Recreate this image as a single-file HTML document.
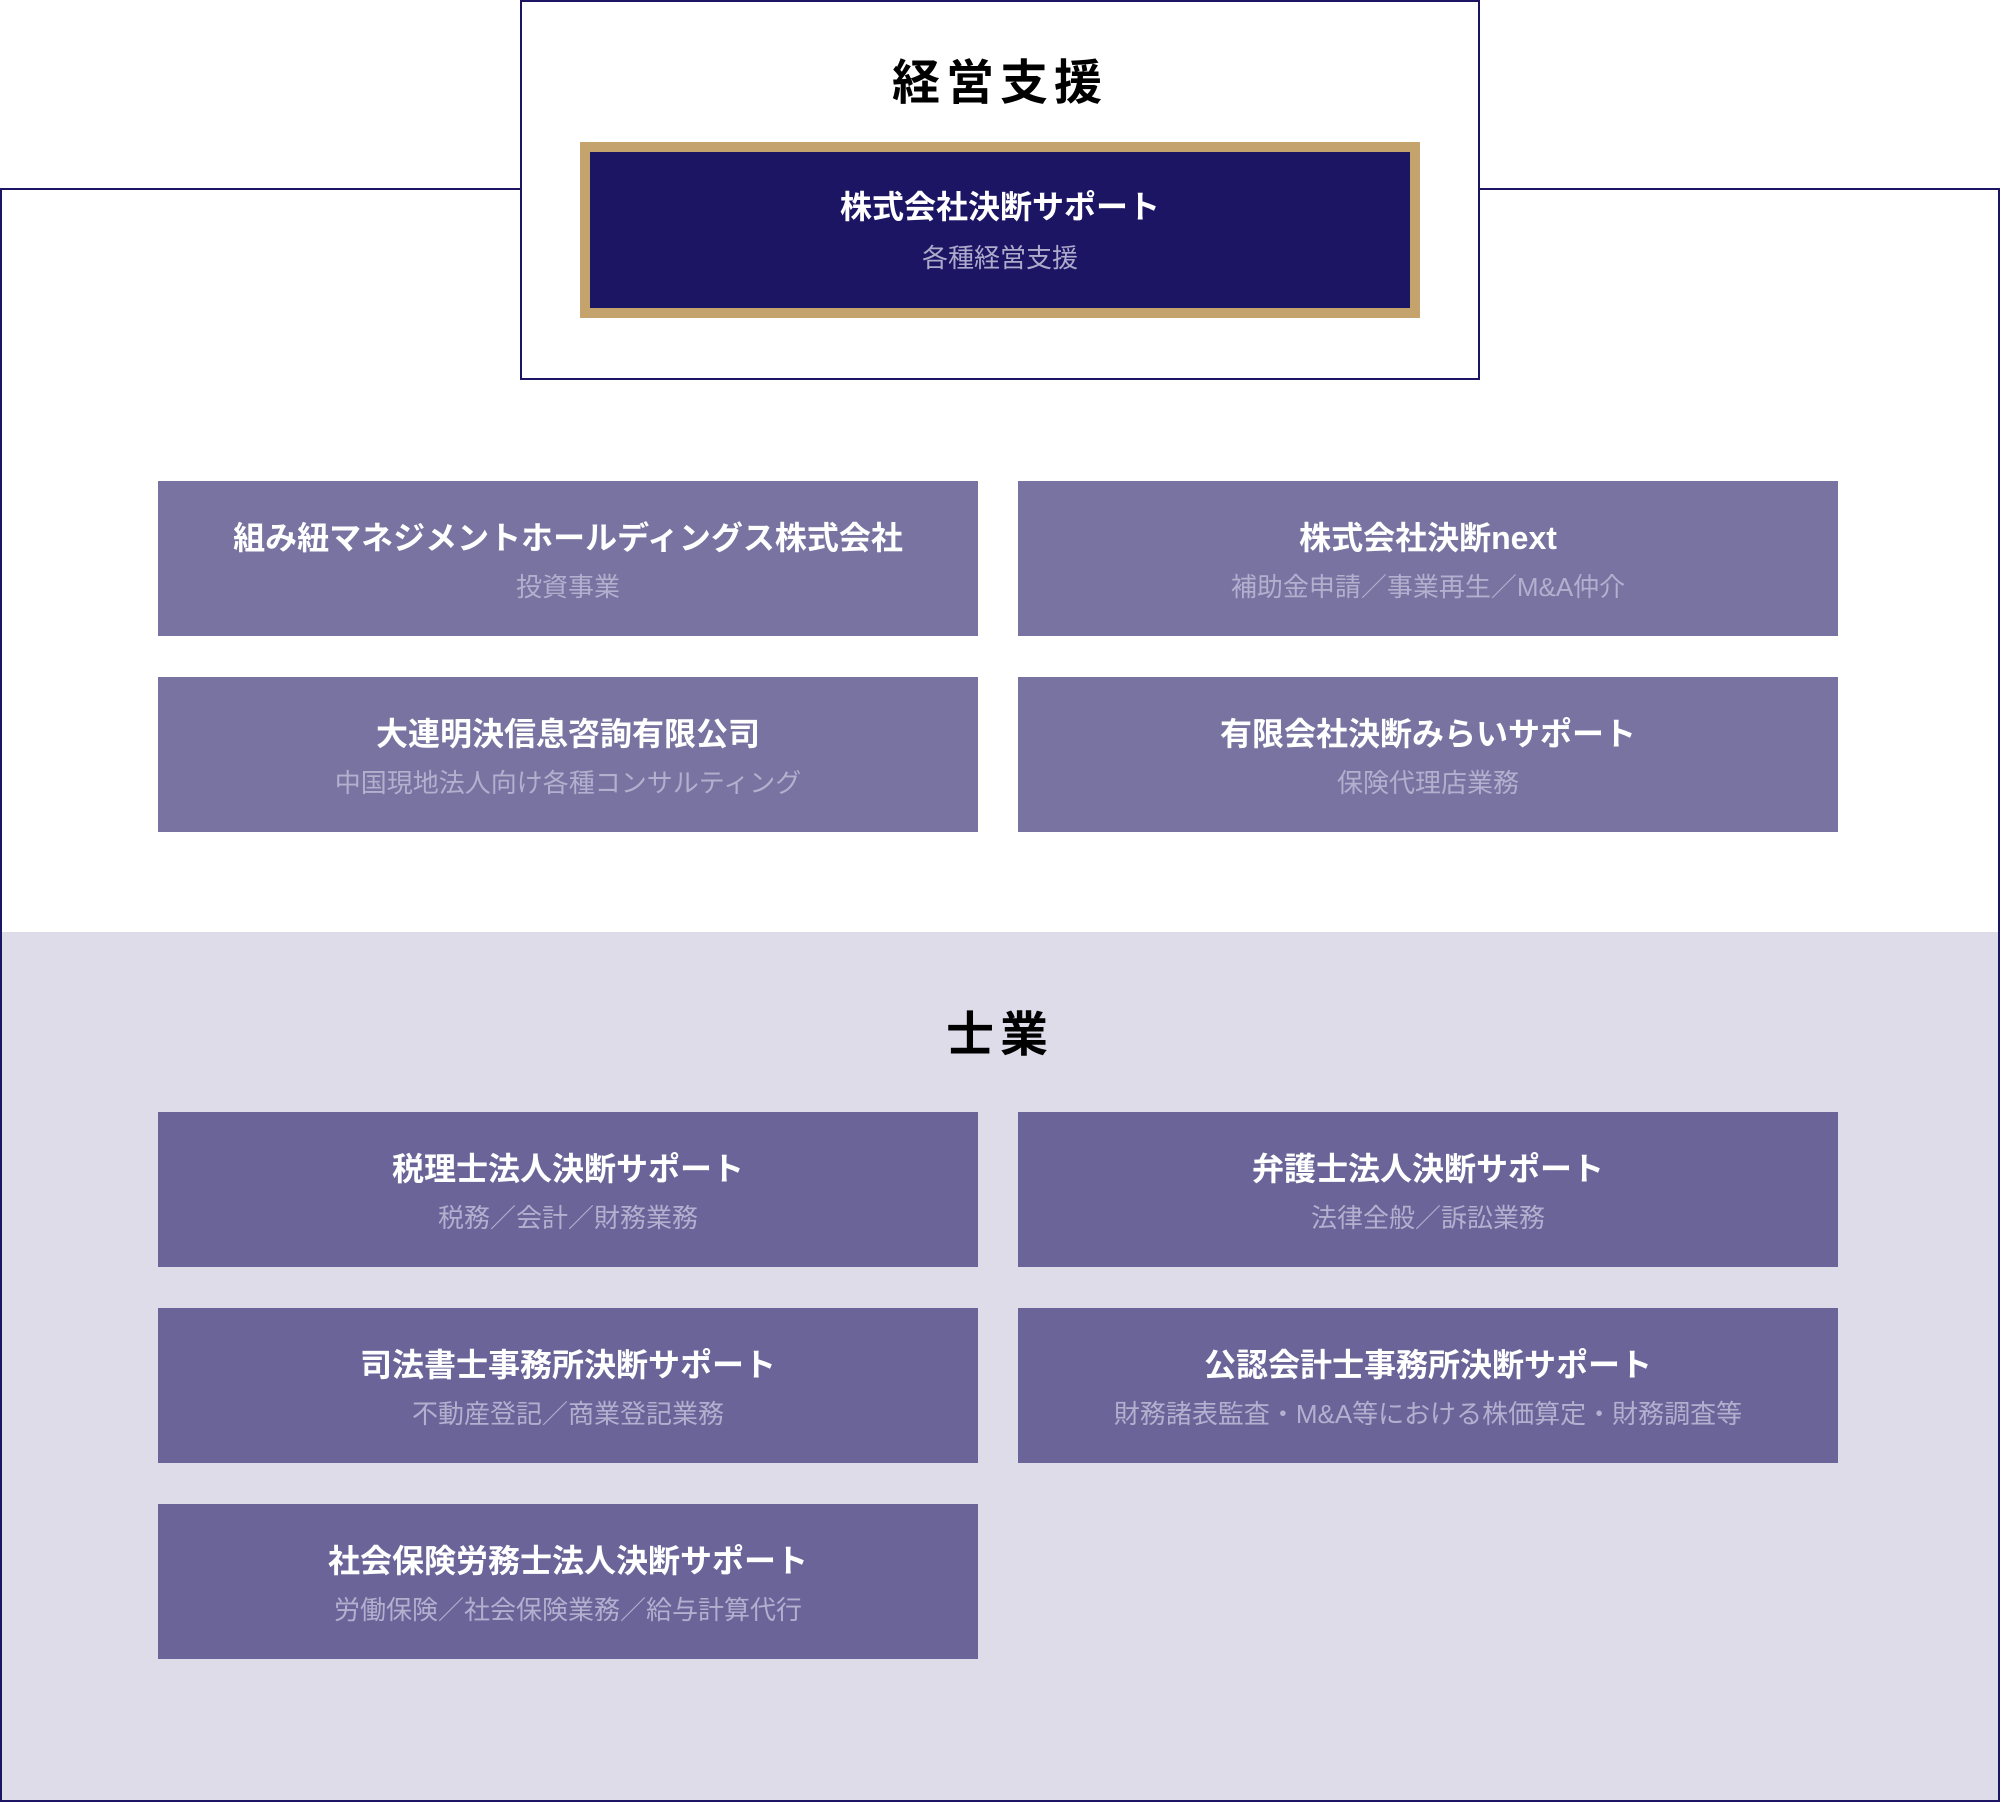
<!DOCTYPE html>
<html><head><meta charset="utf-8"><style>
*{margin:0;padding:0;box-sizing:border-box}
body{width:2000px;height:1802px;position:relative;background:#fff;font-family:"Liberation Sans","Noto Sans CJK JP",sans-serif;overflow:hidden}
.abs{position:absolute}
.frame{left:0;top:188px;width:2000px;height:1614px;border:2px solid #1c1564;background:#fff}
.gray{left:2px;top:932px;width:1996px;height:868px;background:#dedce8}
.top{left:520px;top:0;width:960px;height:380px;border:2px solid #1c1564;background:#fff}
.h{width:100%;text-align:center;font-weight:bold;color:#000;font-size:48px;letter-spacing:6px}
.gold{left:580px;top:142px;width:840px;height:176px;background:#1c1564;border:10px solid #c4a46c;text-align:center}
.box{width:820px;height:155px;text-align:center}
.t{position:absolute;left:0;right:0;top:37px;font-size:32px;font-weight:bold;color:#fff;line-height:40px}
.s{position:absolute;left:0;right:0;top:89px;font-size:26px;color:#b3afcf;line-height:34px}
.a{background:#7873a0}
.b{background:#6a6499}
</style></head><body>
<div class="abs frame"></div>
<div class="abs gray"></div>
<div class="abs top"></div>
<div class="abs h" style="left:0;top:56px;line-height:56px">経営支援</div>
<div class="abs gold"><div class="t" style="top:35px">株式会社決断サポート</div><div class="s" style="top:89px;color:#aeaacb">各種経営支援</div></div>

<div class="abs box a" style="left:158px;top:481px"><div class="t">組み紐マネジメントホールディングス株式会社</div><div class="s">投資事業</div></div>
<div class="abs box a" style="left:1018px;top:481px"><div class="t">株式会社決断next</div><div class="s">補助金申請／事業再生／M&amp;A仲介</div></div>
<div class="abs box a" style="left:158px;top:677px"><div class="t">大連明決信息咨詢有限公司</div><div class="s">中国現地法人向け各種コンサルティング</div></div>
<div class="abs box a" style="left:1018px;top:677px"><div class="t">有限会社決断みらいサポート</div><div class="s">保険代理店業務</div></div>

<div class="abs h" style="left:0;top:1008px;line-height:56px">士業</div>

<div class="abs box b" style="left:158px;top:1112px"><div class="t">税理士法人決断サポート</div><div class="s">税務／会計／財務業務</div></div>
<div class="abs box b" style="left:1018px;top:1112px"><div class="t">弁護士法人決断サポート</div><div class="s">法律全般／訴訟業務</div></div>
<div class="abs box b" style="left:158px;top:1308px"><div class="t">司法書士事務所決断サポート</div><div class="s">不動産登記／商業登記業務</div></div>
<div class="abs box b" style="left:1018px;top:1308px"><div class="t">公認会計士事務所決断サポート</div><div class="s">財務諸表監査・M&amp;A等における株価算定・財務調査等</div></div>
<div class="abs box b" style="left:158px;top:1504px"><div class="t">社会保険労務士法人決断サポート</div><div class="s">労働保険／社会保険業務／給与計算代行</div></div>
</body></html>
